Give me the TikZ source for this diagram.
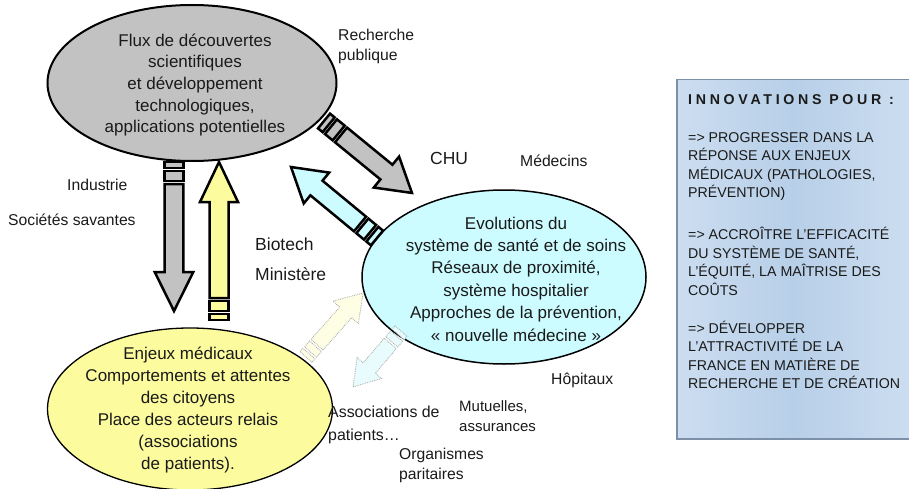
\documentclass[tikz,border=0pt]{standalone}
\usepackage{fontspec}
\setmainfont{Liberation Sans}
\usetikzlibrary{shapes.geometric,calc}
\definecolor{ellgray}{HTML}{C2C2C2}
\definecolor{ellyel}{HTML}{FCFC9E}
\definecolor{ellcyan}{HTML}{CCFCFF}
\definecolor{palyel}{HTML}{FEFEE4}
\definecolor{palcyan}{HTML}{E8FCFE}
\definecolor{boxblue}{HTML}{B7CFE8}
\definecolor{boxlight}{HTML}{CCDDF0}
\definecolor{boxedge}{HTML}{7C90A8}
\definecolor{txt}{HTML}{1A1A1A}
\newdimen\arrdx
\newdimen\arrdy
% #1 tail, #2 tip, #3 style, #4 shaft half width, #5 head half width, #6 head length, #7 stripe scale
\newcommand\stripedarrow[7]{%
  \pgfmathanglebetweenpoints{\pgfpointanchor{#1}{center}}{\pgfpointanchor{#2}{center}}%
  \let\arrang\pgfmathresult
  \pgfextractx{\arrdx}{\pgfpointdiff{\pgfpointanchor{#1}{center}}{\pgfpointanchor{#2}{center}}}%
  \pgfextracty{\arrdy}{\pgfpointdiff{\pgfpointanchor{#1}{center}}{\pgfpointanchor{#2}{center}}}%
  \pgfmathsetmacro\arrlen{veclen(\arrdx,\arrdy)}%
  \pgfmathsetmacro\arrbase{\arrlen-#6}%
  \pgfmathsetmacro\sA{6*#7}\pgfmathsetmacro\sB{9*#7}%
  \pgfmathsetmacro\sC{19*#7}\pgfmathsetmacro\sD{22*#7}%
  \begin{scope}[shift={(#1)}, rotate=\arrang, x=1pt, y=1pt]
    \path[#3] (0,-#4) rectangle (\sA,#4);
    \path[#3] (\sB,-#4) rectangle (\sC,#4);
    \path[#3] (\sD,-#4) -- (\arrbase,-#4) -- (\arrbase,-#5) -- (\arrlen,0)
      -- (\arrbase,#5) -- (\arrbase,#4) -- (\sD,#4) -- cycle;
  \end{scope}}
\tikzset{
  solidarr/.style={draw=black, line width=2.5pt, line join=miter, fill=#1},
  palearr/.style={draw=gray!70, densely dotted, line width=0.8pt, fill=#1},
  ellshape/.style={ellipse, draw=black, inner sep=0pt},
  elltxt/.style={text=txt, align=center, inner sep=0pt,
    font=\fontsize{17}{22}\selectfont},
  lab/.style={anchor=west, align=left, text=txt, inner sep=0pt,
    font=\fontsize{15.7}{20}\selectfont},
  biglab/.style={anchor=west, align=left, text=txt, inner sep=0pt,
    font=\fontsize{17.5}{20}\selectfont},
  boxtxt/.style={anchor=west, align=left, text=txt, inner sep=0pt,
    font=\fontsize{14.2}{18.5}\selectfont},
}
\begin{document}
\begin{tikzpicture}[x=1pt, y=-1pt]
\useasboundingbox (0,0) rectangle (909,489);
% info box
\node[draw=boxedge, line width=1.5pt, left color=boxlight, right color=boxlight,
  middle color=boxblue, minimum width=233, minimum height=359, inner sep=0pt,
  anchor=north west] (box) at (676,79) {};
% ellipses
\node[ellshape, line width=2pt, fill=ellgray, minimum width=289, minimum height=156] (flux) at (192,83) {};
\node[elltxt, font=\fontsize{17}{21.7}\selectfont] (fluxt) at (195,85)
  {Flux de découvertes\\ scientifiques\\ et développement\\ technologiques,\\ applications potentielles};
\node[ellshape, line width=1.5pt, fill=ellcyan, minimum width=284, minimum height=174] (evol) at (504,277) {};
\node[elltxt, font=\fontsize{17}{22.4}\selectfont] (evolt) at (516,279)
  {Evolutions du\\ système de santé et de soins\\ Réseaux de proximité,\\ système hospitalier\\ Approches de la prévention,\\ « nouvelle médecine »};
\node[ellshape, line width=1.3pt, fill=ellyel, minimum width=285, minimum height=162] (enj) at (190,409) {};
\node[elltxt] (enjt) at (188,410)
  {Enjeux médicaux\\ Comportements et attentes\\ des citoyens\\ Place des acteurs relais\\ (associations\\ de patients).};
% arrow end points
\coordinate (gdT) at (174,162); \coordinate (gdH) at (174,311);
\coordinate (yuT) at (219,320); \coordinate (yuH) at (219,162);
\coordinate (gxT) at (324,121); \coordinate (gxH) at (412,193);
\coordinate (cxT) at (377,238); \coordinate (cxH) at (291,167);
\coordinate (pyT) at (306,357); \coordinate (pyH) at (363,293);
\coordinate (pcT) at (401,331); \coordinate (pcH) at (353,387);
\stripedarrow{gdT}{gdH}{solidarr=ellgray}{9.3}{19.3}{39}{1}
\stripedarrow{yuT}{yuH}{solidarr=ellyel}{9.5}{19}{40}{1}
\stripedarrow{gxT}{gxH}{solidarr=ellgray}{9.5}{20}{33}{1}
\stripedarrow{cxT}{cxH}{solidarr=ellcyan}{9.5}{20}{33}{1}
\stripedarrow{pyT}{pyH}{palearr=palyel}{8}{17}{26}{0.75}
\stripedarrow{pcT}{pcH}{palearr=palcyan}{8}{16}{25}{0.75}
% labels
\node[lab] (rech) at (338,46) {Recherche\\publique};
\node[biglab] (chu) at (430,158) {CHU};
\node[lab] (med) at (520,161) {Médecins};
\node[lab] (ind) at (67,185) {Industrie};
\node[lab] (soc) at (8,220) {Sociétés savantes};
\node[biglab] (bio) at (255,244) {Biotech};
\node[biglab] (min) at (255,274) {Ministère};
\node[lab] (hop) at (551,380) {Hôpitaux};
\node[lab, font=\fontsize{15.9}{23}\selectfont] (assoc) at (328,425) {Associations de\\patients…};
\node[lab, font=\fontsize{15}{20}\selectfont] (mut) at (459,416) {Mutuelles,\\assurances};
\node[lab] (org) at (399,465) {Organismes\\paritaires};
% box text
\node[boxtxt, font=\fontsize{14.2}{18.5}\bfseries\addfontfeature{LetterSpace=26}] (title) at (688,100) {INNOVATIONS POUR :};
\node[boxtxt] (p1) at (688,166.5) {=> PROGRESSER DANS LA\\RÉPONSE AUX ENJEUX\\MÉDICAUX (PATHOLOGIES,\\PRÉVENTION)};
\node[boxtxt] (p2) at (688,261.5) {=> ACCROÎTRE L’EFFICACITÉ\\DU SYSTÈME DE SANTÉ,\\L’ÉQUITÉ, LA MAÎTRISE DES\\COÛTS};
\node[boxtxt] (p3) at (688,355) {=> DÉVELOPPER\\L’ATTRACTIVITÉ DE LA\\FRANCE EN MATIÈRE DE\\RECHERCHE ET DE CRÉATION};
\end{tikzpicture}
\end{document}
